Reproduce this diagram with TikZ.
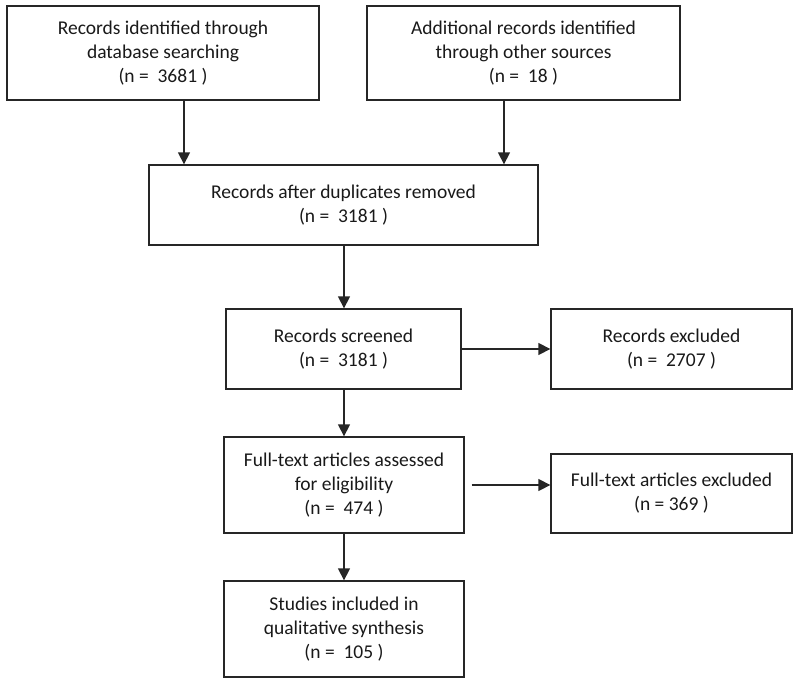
\documentclass[tikz,border=0pt]{standalone}
\usepackage{fontspec}
\setmainfont{Carlito}
\usetikzlibrary{arrows.meta}
\begin{document}
\begin{tikzpicture}[x=1pt,y=-1pt,
  box/.style={draw=black!85,line width=1.3pt,inner sep=0pt,align=center,
    font=\fontsize{19.5}{24}\selectfont,text=black!90},
  arr/.style={draw=black!85,line width=1.3pt,-{Triangle[length=12pt,width=12pt]}}]
\useasboundingbox (0,0) rectangle (800,685);
\node[box,minimum width=312pt,minimum height=94pt] (b1) at (163,53)
  {Records identified through\\database searching\\(n = \ 3681 )};
\node[box,minimum width=313pt,minimum height=94pt] (b2) at (523.5,53)
  {Additional records identified\\through other sources\\(n = \ 18 )};
\node[box,minimum width=389pt,minimum height=80pt] (b3) at (343.5,205)
  {Records after duplicates removed\\(n = \ 3181 )};
\node[box,minimum width=235pt,minimum height=80pt] (b4) at (343.5,349)
  {Records screened\\(n = \ 3181 )};
\node[box,minimum width=241pt,minimum height=80pt] (b5) at (671.5,349)
  {Records excluded\\(n = \ 2707 )};
\node[box,minimum width=240pt,minimum height=96pt] (b6) at (344,485)
  {Full-text articles assessed\\for eligibility\\(n = \ 474 )};
\node[box,minimum width=241pt,minimum height=79pt] (b7) at (671.5,493.5)
  {Full-text articles excluded\\(n = 369 )};
\node[box,minimum width=240pt,minimum height=96pt] (b8) at (344,629)
  {Studies included in\\qualitative synthesis\\(n = \ 105 )};
\draw[arr] ([xshift=21pt]b1.south) -- ([xshift=21pt]b1.south |- b3.north);
\draw[arr] ([xshift=-19.5pt]b2.south) -- ([xshift=-19.5pt]b2.south |- b3.north);
\draw[arr] (b3.south -| b6.north) -- (b4.north -| b6.north);
\draw[arr] (b4.east) -- (b4.east -| b5.west);
\draw[arr] (b4.south -| b6.north) -- (b6.north);
\draw[arr] ([xshift=7pt]b6.east) -- (b6.east -| b7.west);
\draw[arr] (b6.south) -- (b8.north);
\end{tikzpicture}
\end{document}
